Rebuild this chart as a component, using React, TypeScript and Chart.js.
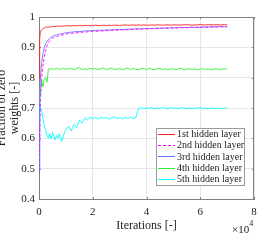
import React, { useEffect, useRef } from "react";
import { Chart, registerables } from "chart.js";

Chart.register(...registerables);

const iterations = [
  0, 250, 500, 1000, 1500, 2000, 2500, 3000, 3500, 4000, 4500, 5000, 5500, 6000, 6500, 7000, 7500, 8000, 8500, 9000, 9500, 10000,
  11000, 12000, 13000, 14000, 15000, 16000, 17000, 18000, 19000, 20000,
  21000, 22000, 23000, 24000, 25000, 26000, 27000, 28000, 29000, 30000,
  31000, 32000, 33000, 34000, 35000, 36000, 37000, 38000, 39000, 40000,
  41000, 42000, 43000, 44000, 45000, 46000, 47000, 48000, 49000, 50000,
  51000, 52000, 53000, 54000, 55000, 56000, 57000, 58000, 59000, 60000,
  61000, 62000, 63000, 64000, 65000, 66000, 67000, 68000, 69000, 70000,
];

const layer1 = [
  0.80, 0.93, 0.95, 0.958, 0.962, 0.964, 0.966, 0.967, 0.966, 0.968, 0.967, 0.969, 0.968, 0.969, 0.970, 0.969, 0.970, 0.970, 0.969, 0.971, 0.970, 0.971,
  0.971, 0.970, 0.972, 0.971, 0.972, 0.971, 0.972, 0.972, 0.971, 0.972,
  0.973, 0.972, 0.972, 0.973, 0.972, 0.973, 0.972, 0.973, 0.973, 0.972,
  0.973, 0.974, 0.973, 0.973, 0.974, 0.973, 0.974, 0.973, 0.974, 0.973,
  0.973, 0.974, 0.973, 0.974, 0.974, 0.973, 0.974, 0.974, 0.973, 0.974,
  0.974, 0.973, 0.974, 0.974, 0.975, 0.974, 0.973, 0.974, 0.974, 0.975,
  0.974, 0.974, 0.975, 0.974, 0.974, 0.975, 0.974, 0.974, 0.975, 0.974,
];

const layer2 = [
  0.49, 0.60, 0.72, 0.80, 0.84, 0.87, 0.89, 0.905, 0.915, 0.922, 0.926, 0.930, 0.932, 0.934, 0.935, 0.937, 0.938, 0.940, 0.940, 0.942, 0.943, 0.944,
  0.945, 0.946, 0.947, 0.948, 0.949, 0.950, 0.950, 0.951, 0.952, 0.952,
  0.953, 0.953, 0.954, 0.954, 0.955, 0.955, 0.956, 0.956, 0.957, 0.957,
  0.958, 0.958, 0.958, 0.959, 0.959, 0.960, 0.960, 0.960, 0.961, 0.961,
  0.961, 0.962, 0.962, 0.962, 0.963, 0.963, 0.963, 0.963, 0.964, 0.964,
  0.964, 0.964, 0.965, 0.965, 0.965, 0.965, 0.966, 0.966, 0.966, 0.966,
  0.966, 0.967, 0.967, 0.967, 0.967, 0.967, 0.968, 0.968, 0.968, 0.968,
];

const layer3 = [
  0.50, 0.72, 0.80, 0.85, 0.88, 0.90, 0.912, 0.920, 0.925, 0.930, 0.933, 0.936, 0.938, 0.940, 0.941, 0.942, 0.943, 0.944, 0.945, 0.946, 0.947, 0.948,
  0.949, 0.950, 0.951, 0.952, 0.952, 0.953, 0.954, 0.954, 0.955, 0.955,
  0.956, 0.956, 0.956, 0.957, 0.957, 0.957, 0.958, 0.958, 0.958, 0.959,
  0.959, 0.959, 0.960, 0.960, 0.960, 0.961, 0.961, 0.961, 0.962, 0.962,
  0.962, 0.962, 0.963, 0.963, 0.963, 0.963, 0.964, 0.964, 0.964, 0.964,
  0.965, 0.965, 0.965, 0.965, 0.966, 0.966, 0.966, 0.966, 0.966, 0.967,
  0.967, 0.967, 0.967, 0.967, 0.968, 0.968, 0.968, 0.968, 0.968, 0.968,
];

const layer4 = [
  0.72, 0.76, 0.745, 0.79, 0.77, 0.795, 0.80, 0.785, 0.828, 0.830, 0.827, 0.831, 0.826, 0.829, 0.832, 0.827, 0.830, 0.826, 0.829, 0.833, 0.827, 0.830,
  0.828, 0.831, 0.826, 0.830, 0.834, 0.827, 0.829, 0.826, 0.831, 0.828,
  0.830, 0.827, 0.829, 0.832, 0.826, 0.829, 0.831, 0.827, 0.828, 0.830,
  0.826, 0.829, 0.831, 0.827, 0.830, 0.828, 0.826, 0.830, 0.829, 0.827,
  0.831, 0.828, 0.826, 0.829, 0.830, 0.827, 0.829, 0.826, 0.830, 0.828,
  0.827, 0.829, 0.831, 0.826, 0.828, 0.830, 0.827, 0.829, 0.826, 0.828,
  0.830, 0.827, 0.829, 0.826, 0.828, 0.830, 0.827, 0.828, 0.829, 0.827,
];

const layer5 = [
  0.50, 0.72, 0.70, 0.69, 0.665, 0.64, 0.625, 0.61, 0.60, 0.615, 0.598, 0.62, 0.605, 0.595, 0.61, 0.60, 0.615, 0.60, 0.59, 0.605, 0.62, 0.63,
  0.64, 0.625, 0.645, 0.635, 0.66, 0.65, 0.668, 0.66, 0.67, 0.665,
  0.668, 0.664, 0.67, 0.666, 0.669, 0.663, 0.667, 0.671, 0.665, 0.668,
  0.664, 0.669, 0.666, 0.67, 0.665, 0.668, 0.698, 0.701, 0.697, 0.700,
  0.699, 0.702, 0.697, 0.700, 0.698, 0.703, 0.699, 0.697, 0.701, 0.699,
  0.700, 0.697, 0.702, 0.699, 0.698, 0.701, 0.697, 0.700, 0.699, 0.702,
  0.698, 0.700, 0.697, 0.701, 0.699, 0.698, 0.700, 0.697, 0.699, 0.700,
];

const seriesLabels = ["1st hidden layer", "2nd hidden layer", "3rd hidden layer", "4th hidden layer", "5th hidden layer"];
const seriesColors = ["#ff2020", "#ff00ff", "#7070ff", "#33ee33", "#00ffff"];
const seriesDash = [[], [3, 2], [], [], []];
const seriesValues = [layer1, layer2, layer3, layer4, layer5];

const xLabel = "Iterations [-]";
const yLabelLines = ["Fraction of zero", "weights [-]"];

const SERIF = "'Liberation Serif', 'Times New Roman', serif";
const AXIS_COLOR = "#808080";

const boxPlugin = {
  id: "boxPlugin",
  beforeDatasetsDraw(chart: any) {
    const { ctx, chartArea } = chart;
    const { left, right, top, bottom } = chartArea;
    ctx.save();
    ctx.strokeStyle = AXIS_COLOR;
    ctx.lineWidth = 1;
    ctx.beginPath();
    ctx.moveTo(left, top + 0.5);
    ctx.lineTo(right, top + 0.5);
    ctx.moveTo(right - 0.5, top);
    ctx.lineTo(right - 0.5, bottom);
    const xs = chart.scales.x;
    const ys = chart.scales.y;
    xs.ticks.forEach((t: any) => {
      const px = Math.round(xs.getPixelForValue(t.value)) + 0.5;
      ctx.moveTo(px, bottom);
      ctx.lineTo(px, bottom - 2);
      ctx.moveTo(px, top);
      ctx.lineTo(px, top + 2);
    });
    ys.ticks.forEach((t: any) => {
      const py = Math.round(ys.getPixelForValue(t.value)) + 0.5;
      ctx.moveTo(left, py);
      ctx.lineTo(left + 2, py);
      ctx.moveTo(right, py);
      ctx.lineTo(right - 2, py);
    });
    ctx.stroke();
    ctx.restore();
  },
};

const legendPlugin = {
  id: "customLegend",
  afterDatasetsDraw(chart: any) {
    const { ctx } = chart;
    const x0 = 156, y0 = 128, w = 88, h = 57;
    ctx.save();
    ctx.fillStyle = "#ffffff";
    ctx.fillRect(x0, y0, w, h);
    ctx.strokeStyle = "#9a9a9a";
    ctx.lineWidth = 1;
    ctx.strokeRect(x0 + 0.5, y0 + 0.5, w, h);
    ctx.font = `10px ${SERIF}`;
    ctx.textBaseline = "middle";
    ctx.textAlign = "left";
    chart.data.datasets.forEach((ds: any, i: number) => {
      const y = y0 + 6 + i * 11.2;
      ctx.strokeStyle = seriesColors[i];
      ctx.lineWidth = 1;
      ctx.setLineDash(seriesDash[i]);
      ctx.beginPath();
      ctx.moveTo(x0 + 2, Math.round(y) + 0.5);
      ctx.lineTo(x0 + 19, Math.round(y) + 0.5);
      ctx.stroke();
      ctx.setLineDash([]);
      ctx.fillStyle = "#222222";
      ctx.fillText(ds.label, x0 + 21, y + 0.5);
    });
    ctx.restore();
  },
};

const titlePlugin = {
  id: "titles",
  afterDraw(chart: any) {
    const { ctx, chartArea } = chart;
    const cx = (chartArea.left + chartArea.right) / 2;
    const cy = (chartArea.top + chartArea.bottom) / 2;
    ctx.save();
    ctx.fillStyle = "#222222";
    ctx.font = `12px ${SERIF}`;
    ctx.textAlign = "center";
    ctx.textBaseline = "middle";
    ctx.fillText(xLabel, cx, 226);
    ctx.textAlign = "left";
    ctx.font = `11px ${SERIF}`;
    ctx.fillText("\u00d710", 232, 230);
    const w = ctx.measureText("\u00d710").width;
    ctx.font = `8px ${SERIF}`;
    ctx.fillText("4", 232 + w, 224);
    ctx.font = `12px ${SERIF}`;
    ctx.textAlign = "center";
    ctx.translate(0, cy);
    ctx.rotate(-Math.PI / 2);
    ctx.fillText(yLabelLines[0], 0, 2);
    ctx.fillText(yLabelLines[1], 0, 15);
    ctx.restore();
  },
};

export default function App() {
  const canvasRef = useRef<HTMLCanvasElement | null>(null);

  useEffect(() => {
    if (!canvasRef.current) return;
    const datasets = seriesValues.map((vals, i) => ({
      label: seriesLabels[i],
      data: iterations.map((it, j) => ({ x: it, y: vals[j] })),
      borderColor: seriesColors[i],
      backgroundColor: seriesColors[i],
      borderWidth: 0.9,
      borderDash: seriesDash[i],
      pointRadius: 0,
      tension: 0,
      fill: false,
    }));
    const chart = new Chart(canvasRef.current, {
      type: "line",
      data: { datasets },
      options: {
        animation: false,
        responsive: true,
        maintainAspectRatio: false,
        devicePixelRatio: 1,
        layout: { padding: { left: 0, top: 17, right: 15, bottom: 0 } },
        plugins: {
          legend: { display: false },
          tooltip: { enabled: false },
        },
        scales: {
          x: {
            type: "linear",
            min: 0,
            max: 80000,
            afterFit: (scale: any) => {
              scale.height = 42;
            },
            ticks: {
              stepSize: 20000,
              padding: 7,
              color: "#222222",
              font: { family: SERIF, size: 11 },
              maxRotation: 0,
              callback: (v: any) => String(Math.round(Number(v) / 10000)),
            },
            grid: { color: "#e6e6e6", drawTicks: false },
            border: { color: AXIS_COLOR, width: 1 },
          },
          y: {
            type: "linear",
            min: 0.4,
            max: 1,
            afterFit: (scale: any) => {
              scale.width = 39;
            },
            ticks: {
              stepSize: 0.1,
              padding: 4,
              color: "#222222",
              font: { family: SERIF, size: 11 },
              callback: (v: any) => {
                const n = Number(v);
                return Math.abs(n - 1) < 1e-9 ? "1" : n.toFixed(1);
              },
            },
            grid: { color: "#e6e6e6", drawTicks: false },
            border: { color: AXIS_COLOR, width: 1 },
          },
        },
      } as any,
      plugins: [boxPlugin, legendPlugin, titlePlugin],
    });
    return () => chart.destroy();
  }, []);

  return (
    <div style={{ position: "absolute", left: 0, top: 0, width: 269, height: 241 }}>
      <canvas ref={canvasRef} />
    </div>
  );
}
